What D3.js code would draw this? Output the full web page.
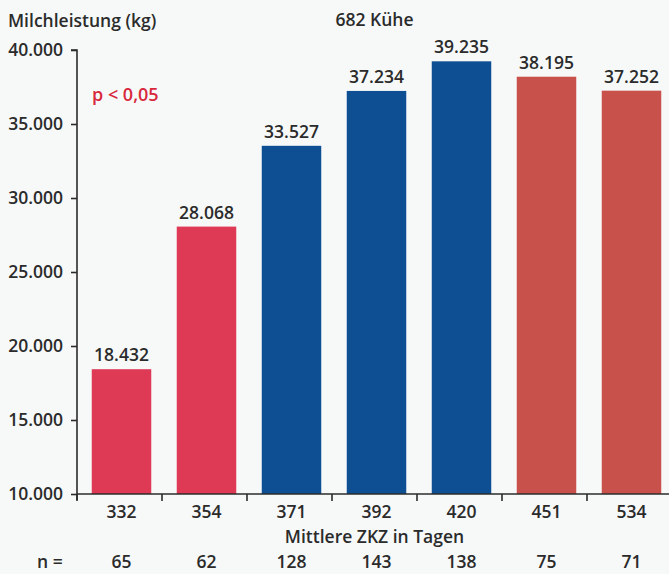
<!DOCTYPE html>
<html>
<head>
<meta charset="utf-8">
<script src="https://cdn.jsdelivr.net/npm/d3@7"></script>
<style>
  html, body { margin: 0; padding: 0; background: #f7f9f9; }
  svg { display: block; }
  text { font-family: "Open Sans", "Noto Sans", sans-serif; font-weight: 600; fill: #2b2b2b; }
</style>
</head>
<body>
<div id="chart"></div>
<script>
// Mittlere Zwischenkalbezeit (Tage) je Gruppe
const categories = ["332", "354", "371", "392", "420", "451", "534"];
// Lebensleistung Milch (kg) je Gruppe
const milk = [18432, 28068, 33527, 37234, 39235, 38195, 37252];
// Anzahl Kühe je Gruppe
const counts = [65, 62, 128, 143, 138, 75, 71];
// Farbgruppe je Balken
const groups = ["kurz", "kurz", "mittel", "mittel", "mittel", "lang", "lang"];
const yTicks = [10000, 15000, 20000, 25000, 30000, 35000, 40000];

const W = 669, H = 574;
const FS = 17.5;
const margin = { left: 77, right: -3, top: 50, bottom: 80 };

const svg = d3.select("#chart").append("svg")
  .attr("width", W).attr("height", H);

const x = d3.scaleBand()
  .domain(categories)
  .range([margin.left, W - margin.right])
  .paddingInner(0.3)
  .paddingOuter(0.15)
  .align(0.5);

const y = d3.scaleLinear()
  .domain([10000, 40000])
  .range([H - margin.bottom, margin.top]);

const color = d3.scaleOrdinal()
  .domain(["kurz", "mittel", "lang"])
  .range(["#de3a55", "#0e4f93", "#c8514c"]);

const fmt = d3.formatLocale({ decimal: ",", thousands: ".", grouping: [3], currency: ["", " €"] }).format(",");

// Bars (slightly right of band center)
const shift = 2;
svg.selectAll("rect.bar")
  .data(milk)
  .join("rect")
  .attr("class", "bar")
  .attr("x", (d, i) => x(categories[i]) + shift)
  .attr("width", x.bandwidth())
  .attr("y", d => y(d))
  .attr("height", d => y.range()[0] - y(d))
  .attr("fill", (d, i) => color(groups[i]));

// Value labels
svg.selectAll("text.val")
  .data(milk)
  .join("text")
  .attr("class", "val")
  .attr("x", (d, i) => x(categories[i]) + shift + x.bandwidth() / 2)
  .attr("y", d => y(d) - 8)
  .attr("text-anchor", "middle")
  .attr("font-size", FS)
  .text(d => fmt(d));

// Y axis
const yAxis = d3.axisLeft(y)
  .tickValues(yTicks)
  .tickSize(6)
  .tickPadding(8)
  .tickFormat(d => fmt(d));

const gy = svg.append("g")
  .attr("transform", `translate(${margin.left},0)`)
  .call(yAxis);
gy.select(".domain").attr("d", `M-6,${y(40000)}H0V${y(10000) + 6}`);
gy.selectAll("path, line").attr("stroke", "#2b2b2b").attr("stroke-width", 1.6);
gy.selectAll("text").attr("font-size", FS).attr("fill", "#2b2b2b")
  .style("font-family", "'Open Sans', sans-serif").style("font-weight", 600);

// X axis: line with ticks at band boundaries, labels at band centers
const xBase = y.range()[0];
const step = x.step();
const boundaries = categories.map((c, i) => x(c) - (step - x.bandwidth()) / 2);
const gx = svg.append("g").attr("class", "xaxis");
gx.append("line")
  .attr("x1", margin.left).attr("x2", W)
  .attr("y1", xBase).attr("y2", xBase)
  .attr("stroke", "#2b2b2b").attr("stroke-width", 1.6);
gx.selectAll("line.tick")
  .data(boundaries)
  .join("line")
  .attr("class", "tick")
  .attr("x1", d => d).attr("x2", d => d)
  .attr("y1", xBase).attr("y2", xBase + 7)
  .attr("stroke", "#2b2b2b").attr("stroke-width", 1.6);
gx.selectAll("text.cat")
  .data(categories)
  .join("text")
  .attr("class", "cat")
  .attr("x", d => x(d) + shift + x.bandwidth() / 2)
  .attr("y", xBase + 24)
  .attr("text-anchor", "middle")
  .attr("font-size", FS)
  .text(d => d);

// Axis titles
svg.append("text")
  .attr("x", 8).attr("y", 27)
  .attr("font-size", FS)
  .text("Milchleistung (kg)");

svg.append("text")
  .attr("x", (x(categories[3]) + x.bandwidth() / 2))
  .attr("y", 26)
  .attr("text-anchor", "middle")
  .attr("font-size", FS)
  .text("682 Kühe");

svg.append("text")
  .attr("x", (x(categories[0]) + x(categories[6]) + x.bandwidth()) / 2)
  .attr("y", xBase + 49)
  .attr("text-anchor", "middle")
  .attr("font-size", FS)
  .text("Mittlere ZKZ in Tagen");

// Significance note
svg.append("text")
  .attr("x", 92).attr("y", 101)
  .attr("font-size", 18)
  .style("fill", "#d8283c")
  .text("p < 0,05");

// Group sizes
svg.append("text")
  .attr("x", 37).attr("y", xBase + 74)
  .attr("font-size", FS)
  .text("n =");
svg.selectAll("text.n")
  .data(counts)
  .join("text")
  .attr("class", "n")
  .attr("x", (d, i) => x(categories[i]) + shift + x.bandwidth() / 2)
  .attr("y", xBase + 74)
  .attr("text-anchor", "middle")
  .attr("font-size", FS)
  .text(d => d);
</script>
</body>
</html>
